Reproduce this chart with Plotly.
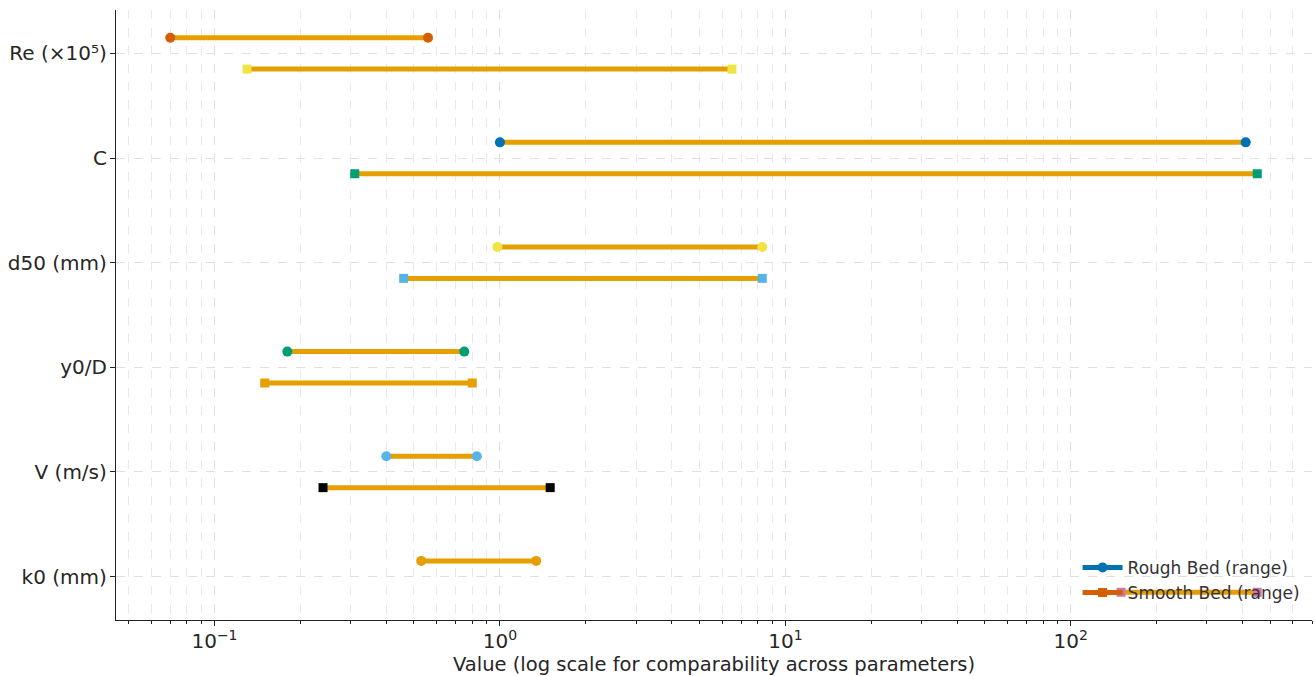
import plotly.graph_objects as go

# ---- data ----
categories = ["k0 (mm)", "V (m/s)", "y0/D", "d50 (mm)", "C", "Re (×10⁵)"]
rough_min = [0.53, 0.40, 0.18, 0.98, 1.0, 0.07]
rough_max = [1.34, 0.83, 0.75, 8.3, 410, 0.56]
smooth_min = [150, 0.24, 0.15, 0.46, 0.31, 0.13]
smooth_max = [450, 1.5, 0.80, 8.3, 450, 6.5]
x_tickvals = [0.1, 1, 10, 100]
x_ticktext = ["10<sup>−1</sup>", "10<sup>0</sup>", "10<sup>1</sup>", "10<sup>2</sup>"]

# ---- styles ----
line_color = "#E69F00"
rough_marker_colors = ["#E69F00", "#56B4E9", "#009E73", "#F0E442", "#0072B2", "#D55E00"]
smooth_marker_colors = ["#CC79A7", "#000000", "#E69F00", "#56B4E9", "#009E73", "#F0E442"]
offset = 0.15
font_family = "DejaVu Sans"
text_color = "#262626"
lw = 5
ms = 10

fig = go.Figure()

for i, cat in enumerate(categories):
    fig.add_trace(go.Scatter(
        x=[rough_min[i], rough_max[i]], y=[i + offset, i + offset],
        mode="lines+markers",
        line=dict(color=line_color, width=lw),
        marker=dict(symbol="circle", size=ms, color=rough_marker_colors[i]),
        showlegend=False, hoverinfo="x+name", name=cat + " rough",
    ))
    fig.add_trace(go.Scatter(
        x=[smooth_min[i], smooth_max[i]], y=[i - offset, i - offset],
        mode="lines+markers",
        line=dict(color=line_color, width=lw),
        marker=dict(symbol="square", size=ms - 1, color=smooth_marker_colors[i]),
        showlegend=False, hoverinfo="x+name", name=cat + " smooth",
    ))

# legend entries
fig.add_trace(go.Scatter(
    x=[None], y=[None], mode="lines+markers", name="Rough Bed (range)",
    line=dict(color="#0072B2", width=lw),
    marker=dict(symbol="circle", size=ms, color="#0072B2"),
))
fig.add_trace(go.Scatter(
    x=[None], y=[None], mode="lines+markers", name="Smooth Bed (range)",
    line=dict(color="#D55E00", width=lw),
    marker=dict(symbol="square", size=ms - 1, color="#D55E00"),
))

grid_color = "#e0e0e0"

fig.update_layout(
    width=1314, height=676,
    margin=dict(l=116, r=2, t=10, b=56),
    paper_bgcolor="white", plot_bgcolor="white",
    font=dict(family=font_family, size=20, color=text_color),
    legend=dict(
        x=0.804, xanchor="left", y=0.015, yanchor="bottom",
        bgcolor="rgba(0,0,0,0)", font=dict(size=17, color="#333333"),
        tracegroupgap=0, itemwidth=40,
    ),
    xaxis=dict(
        type="log",
        range=[-1.345, 2.845],
        tickmode="array", tickvals=x_tickvals, ticktext=x_ticktext,
        automargin=False,
        showline=True, linecolor="#222222", linewidth=1.3,
        ticks="outside", ticklen=5, tickcolor="#222222",
        ticklabelstandoff=-2,
        showgrid=True, gridcolor=grid_color, griddash="dash", gridwidth=1,
        minor=dict(ticks="outside", ticklen=3, tickcolor="#222222",
                   dtick="D1", showgrid=True, gridcolor="#e9e9e9",
                   griddash="dash", gridwidth=1),
        zeroline=False,
        title=dict(text="Value (log scale for comparability across parameters)",
                   font=dict(size=19.5), standoff=3),
        tickfont=dict(size=20),
    ),
    yaxis=dict(
        range=[-0.415, 5.415],
        tickmode="array", tickvals=list(range(len(categories))), ticktext=categories,
        automargin=False,
        showline=True, linecolor="#222222", linewidth=1.3,
        ticks="outside", ticklen=5, tickcolor="#222222",
        ticklabelstandoff=-1,
        showgrid=True, gridcolor=grid_color, griddash="dash", gridwidth=1,
        zeroline=False,
        tickfont=dict(size=20),
    ),
)

fig.write_html(
    "out.html",
    config={"displayModeBar": False},
    post_script="document.body.style.margin='0';document.body.style.overflow='hidden';",
)
